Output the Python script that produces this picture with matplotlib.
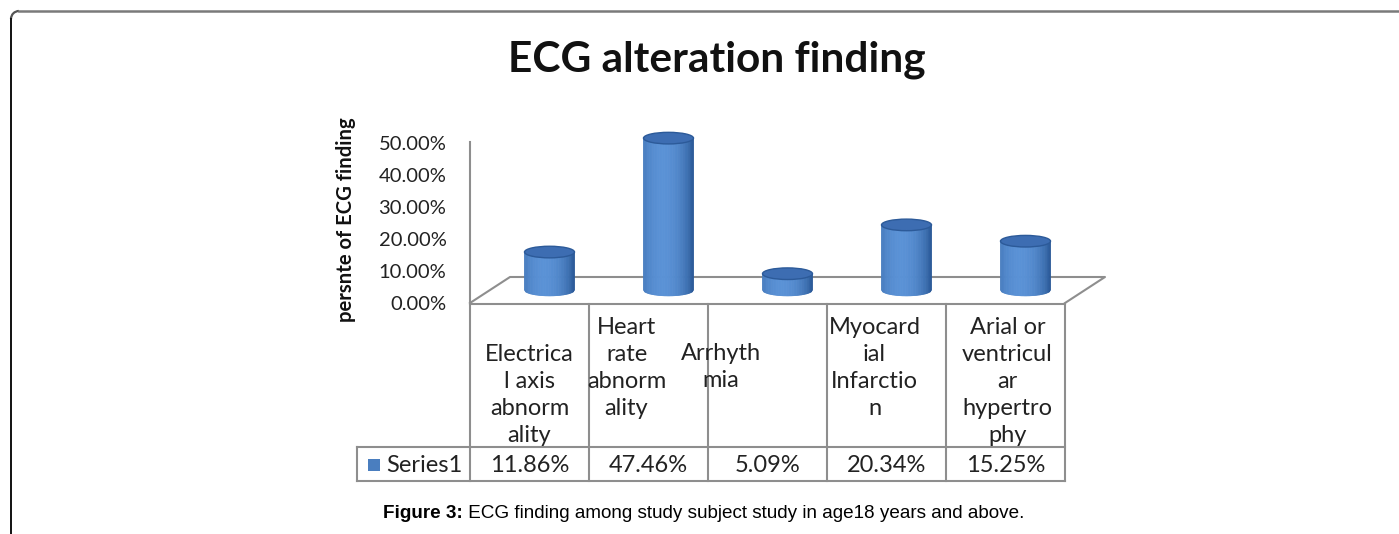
import matplotlib
matplotlib.use('Agg')
import matplotlib.pyplot as plt
import matplotlib.transforms as mtransforms
from matplotlib.patches import Ellipse, Arc, Rectangle
from matplotlib.collections import PolyCollection
from matplotlib.colors import to_rgb
from matplotlib.ticker import FuncFormatter
import numpy as np

W, H = 1399, 534

title = 'ECG alteration finding'
ylabel = 'persnte of ECG finding'
categories = ['Electrical axis abnormality', 'Heart rate abnormality', 'Arrhythmia',
              'Myocardial Infarction', 'Arial or ventricular hypertrophy']
# wrapped the same way the spreadsheet broke them
cat_labels = ['Electrica\nl axis\nabnorm\nality', 'Heart\nrate\nabnorm\nality', 'Arrhyth\nmia',
              'Myocard\nial\nInfarctio\nn', 'Arial or\nventricul\nar\nhypertro\nphy']
series_name = 'Series1'
values = [11.86, 47.46, 5.09, 20.34, 15.25]
yticks = [0, 10, 20, 30, 40, 50]
caption_bold = 'Figure 3:'
caption_rest = ' ECG finding among study subject study in age18 years and above.'

plt.rcParams['font.family'] = ['Lato', 'DejaVu Sans']

fig = plt.figure(figsize=(W / 100, H / 100), dpi=100)
# pixel coords, y down
pix = mtransforms.Affine2D().scale(1.0 / W, -1.0 / H).translate(0, 1) + fig.transFigure


def box(l, t, r, b):
    return [l / W, 1 - b / H, (r - l) / W, (b - t) / H]


n = len(values)
ax = fig.add_axes(box(470, 143, 1065, 303))
ax.set_xlim(-0.5, n - 0.5)
ax.set_ylim(0, 50)
for s in ax.spines.values():
    s.set_visible(False)
ax.set_xticks([])
ax.set_yticks(yticks)
ax.yaxis.set_major_formatter(FuncFormatter(lambda v, p: '%.2f%%' % v))
ax.tick_params(axis='y', length=0, pad=17, labelsize=14.5, labelcolor='#222222')
ax.patch.set_alpha(0)

# 3d depth of the floor, data units
DX = 40 / 119.0
DY = 26 / 3.2
gray = '#8e8e8e'

ax.plot([-0.5, -0.5], [0, 50.3], color=gray, lw=1.5, clip_on=False, zorder=1)
ax.plot([-0.5, -0.5 + DX, n - 0.5 + DX, n - 0.5], [0, DY, DY, 0],
        color=gray, lw=1.5, clip_on=False, zorder=1)

# cylinders
a = 25 / 119.0      # half width
b = 5.8 / 3.2       # half height of the end ellipses
c_dark = np.array(to_rgb('#23518f'))
c_light = np.array(to_rgb('#5a92d6'))
nstrip = 40
for i, v in enumerate(values):
    cx = i + DX / 2
    y0 = DY / 2
    y1 = DY / 2 + v
    xs = np.linspace(cx - a, cx + a, nstrip + 1)
    polys, cols = [], []
    for k in range(nstrip):
        xa, xb = xs[k], xs[k + 1]
        ua, ub = (xa - cx) / a, (xb - cx) / a
        bota = y0 - b * np.sqrt(max(0, 1 - ua ** 2))
        botb = y0 - b * np.sqrt(max(0, 1 - ub ** 2))
        polys.append([(xa, bota), (xb, botb), (xb, y1), (xa, y1)])
        um = (ua + ub) / 2
        t = np.clip(np.cos((um + 0.2) * np.pi / 2.4), 0, 1) ** 0.6
        cols.append(c_dark + (c_light - c_dark) * t)
    pc = PolyCollection(polys, facecolors=cols, edgecolors=cols, linewidths=0.6,
                        clip_on=False, zorder=3)
    ax.add_collection(pc)
    top = Ellipse((cx, y1), 2 * a, 2 * b, facecolor='#3d6db2', edgecolor='#2c5a99',
                  lw=1.0, clip_on=False, zorder=4)
    ax.add_patch(top)

# data table under the chart
tab = mtransforms.blended_transform_factory(ax.transData, pix)
left_x = -0.5 - 113 / 119.0
t_top, t_mid, t_bot = 304, 447, 481
tl = dict(color=gray, lw=1.5, transform=tab, clip_on=False)
ax.plot([-0.5, n - 0.5], [t_top, t_top], **tl)
ax.plot([left_x, n - 0.5], [t_mid, t_mid], **tl)
ax.plot([left_x, n - 0.5], [t_bot, t_bot], **tl)
ax.plot([left_x, left_x], [t_mid, t_bot], **tl)
for i in range(n + 1):
    ax.plot([i - 0.5, i - 0.5], [t_top, t_bot], **tl)

lab_dx = [0, -22, -47, -12, 2]          # px shifts seen in the source
lab_y = [354, 327, 353, 327, 327]      # first line centre, px
for i, lab in enumerate(cat_labels):
    ax.text(i + lab_dx[i] / 119.0, lab_y[i] - 10, lab, transform=tab, ha='center', va='top',
            fontsize=17, linespacing=1.36, color='#222222', clip_on=False)
    ax.text(i, 465, '%.2f%%' % values[i], transform=tab, ha='center', va='center',
            fontsize=17, color='#222222', clip_on=False)

fig.patches.append(Rectangle((368, 459), 12, 12, transform=pix, facecolor='#4a7ebf',
                             edgecolor='none'))
fig.text(386, 465, series_name, transform=pix, ha='left', va='center', fontsize=17,
         color='#222222')

# titles
fig.text(717, 60, title, transform=pix, ha='center', va='center', fontsize=30.5,
         fontweight='bold', color='#111111')
fig.text(346, 220, ylabel, transform=pix, ha='center', va='center', rotation=90,
         fontsize=14.6, fontweight='bold', color='#111111')

# frame around the figure
fig.lines.append(plt.Line2D([19, W], [11, 11], transform=pix, color='#7a7a7a', lw=1.8))
fig.lines.append(plt.Line2D([11, 11], [19, H], transform=pix, color='#111111', lw=1.4))
fig.patches.append(Arc((19, 19), 16, 16, theta1=180, theta2=270, transform=pix,
                       color='#555555', lw=1.6))

# caption: bold lead then regular text
renderer = fig.canvas.get_renderer()
cap_font = ['Liberation Sans', 'DejaVu Sans']
t1 = fig.text(383, 513, caption_bold, transform=pix, ha='left', va='center', fontsize=13.6,
              fontweight='bold', family=cap_font)
bb = t1.get_window_extent(renderer)
fig.text(bb.x1 / W, 1 - 513 / H, caption_rest, ha='left', va='center', fontsize=13.6,
         family=cap_font)

fig.savefig('out.png', dpi=100)
plt.close()
